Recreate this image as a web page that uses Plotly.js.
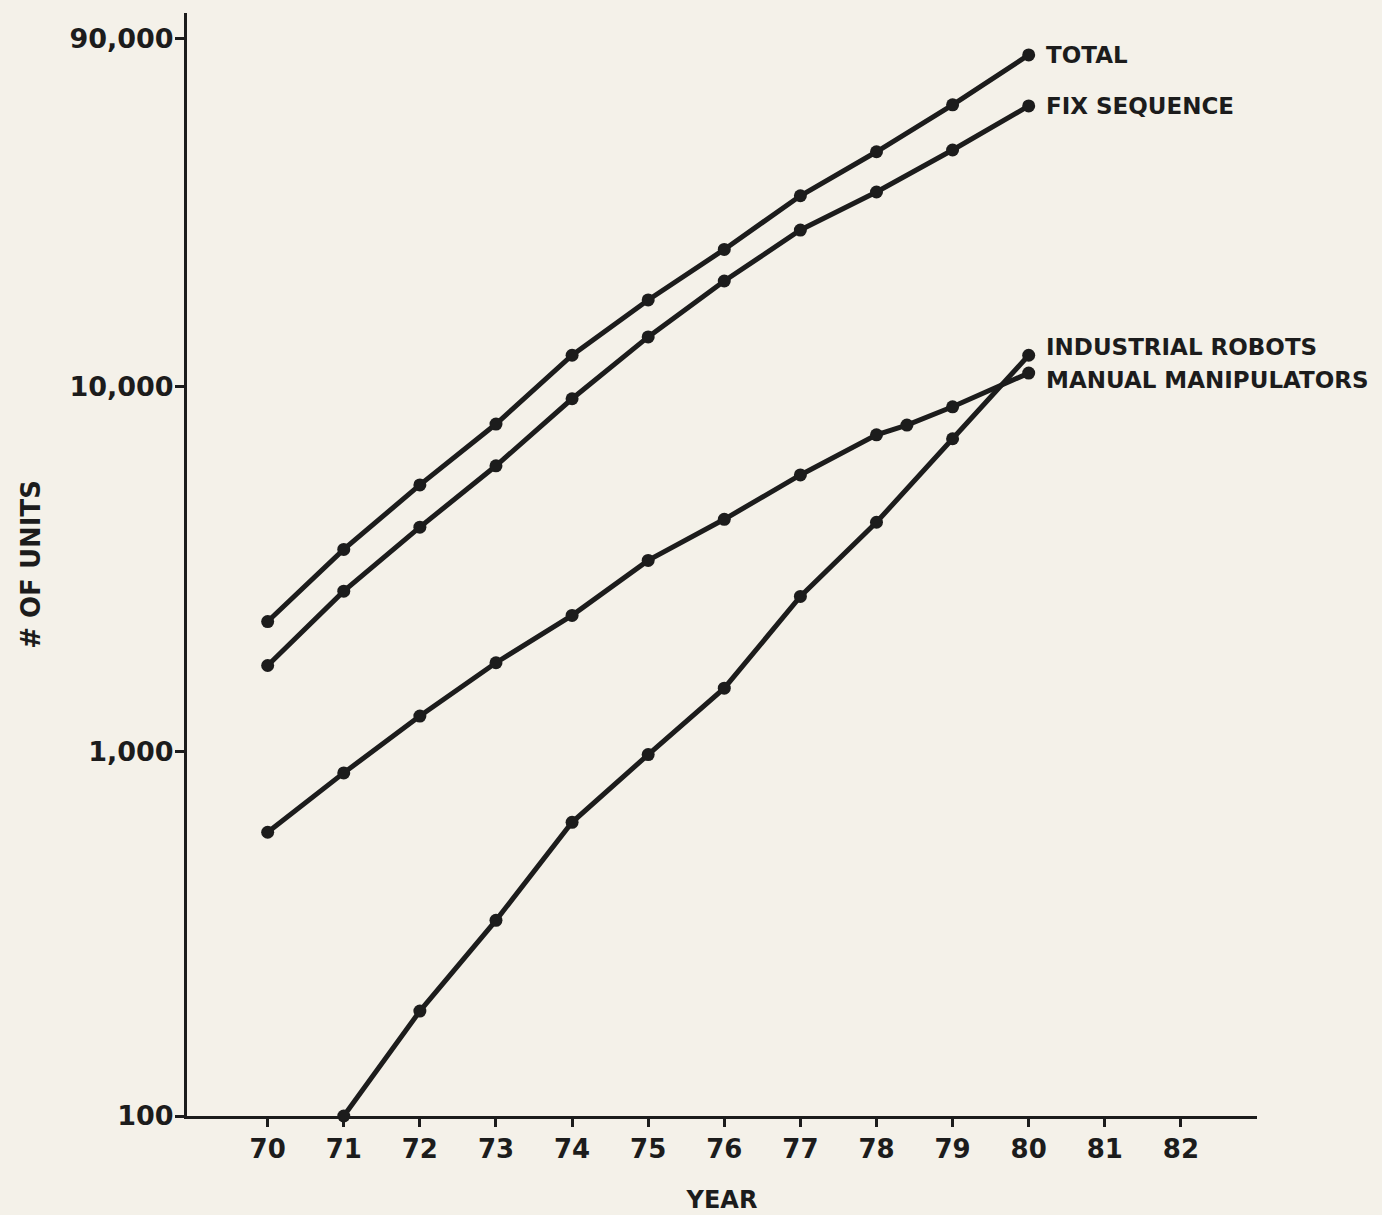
<!DOCTYPE html>
<html>
<head>
<meta charset="utf-8">
<script src="https://cdn.plot.ly/plotly-3.0.1.min.js"></script>
<style>
  html, body { margin: 0; padding: 0; background: #f4f1e9; }
  #chart { width: 1382px; height: 1215px; }
</style>
</head>
<body>
<div id="chart"></div>
<script>
// ---- data ----
const yearsMain = [70, 71, 72, 73, 74, 75, 76, 77, 78, 79, 80];
const totalUnits = [2270, 3580, 5380, 7900, 12200, 17300, 23800, 33400, 44100, 59300, 81300];
const fixSequenceUnits = [1720, 2750, 4120, 6070, 9270, 13700, 19500, 26900, 34200, 44600, 58900];

const yearsManual = [70, 71, 72, 73, 74, 75, 76, 77, 78, 78.4, 79, 80];
const manualManipulatorUnits = [600, 873, 1250, 1750, 2360, 3340, 4330, 5730, 7380, 7850, 8810, 10900];

const yearsRobots = [71, 72, 73, 74, 75, 76, 77, 78, 79, 80];
const industrialRobotUnits = [100, 194, 344, 639, 980, 1490, 2660, 4250, 7200, 12200];

const seriesNames = ["TOTAL", "FIX SEQUENCE", "INDUSTRIAL ROBOTS", "MANUAL MANIPULATORS"];

const xTickVals = [70, 71, 72, 73, 74, 75, 76, 77, 78, 79, 80, 81, 82];
const xTickText = ["70", "71", "72", "73", "74", "75", "76", "77", "78", "79", "80", "81", "82"];
const yTickVals = [100, 1000, 10000, 90000];
const yTickText = ["100", "1,000", "10,000", "90,000"];

const xTitle = "YEAR";
const yTitle = "# OF UNITS";

// ---- styling ----
const INK = "#1c1c1c";
const PAPER = "#f4f1e9";
const FONT = "DejaVu Sans, Liberation Sans, Arial, sans-serif";

function lineTrace(x, y, name) {
  return {
    type: "scatter",
    mode: "lines+markers",
    x: x, y: y, name: name,
    line: { color: INK, width: 5 },
    marker: { color: INK, size: 13, symbol: "circle" },
    cliponaxis: false,
    showlegend: false,
    hoverinfo: "x+y+name"
  };
}

const traces = [
  lineTrace(yearsMain, totalUnits, seriesNames[0]),
  lineTrace(yearsMain, fixSequenceUnits, seriesNames[1]),
  lineTrace(yearsRobots, industrialRobotUnits, seriesNames[2]),
  lineTrace(yearsManual, manualManipulatorUnits, seriesNames[3])
];

function endLabel(text, xArr, yArr, yshift) {
  return {
    x: xArr[xArr.length - 1],
    y: Math.log10(yArr[yArr.length - 1]),
    xref: "x", yref: "y",
    text: text,
    showarrow: false,
    xanchor: "left",
    yanchor: "middle",
    xshift: 15,
    yshift: yshift,
    font: { family: FONT, size: 23, color: INK, weight: "bold" }
  };
}

const layout = {
  width: 1382,
  height: 1215,
  paper_bgcolor: PAPER,
  plot_bgcolor: PAPER,
  margin: { l: 187, r: 125, t: 13, b: 99, pad: 0 },
  font: { family: FONT, color: INK, weight: "bold" },
  xaxis: {
    range: [68.94, 83.0],
    tickmode: "array",
    tickvals: xTickVals,
    ticktext: xTickText,
    ticks: "outside",
    ticklen: 8,
    tickwidth: 3,
    tickcolor: INK,
    showline: true,
    linecolor: INK,
    linewidth: 3,
    showgrid: false,
    zeroline: false,
    tickfont: { family: FONT, size: 26, color: INK, weight: "bold" },
    ticklabelstandoff: 0,
    title: { text: xTitle, font: { family: FONT, size: 24, color: INK, weight: "bold" }, standoff: 28 },
    automargin: false
  },
  yaxis: {
    type: "log",
    range: [2, 5.025],
    tickmode: "array",
    tickvals: yTickVals,
    ticktext: yTickText,
    ticks: "outside",
    ticklen: 9,
    tickwidth: 3,
    tickcolor: INK,
    showline: true,
    linecolor: INK,
    linewidth: 3,
    showgrid: false,
    zeroline: false,
    tickfont: { family: FONT, size: 27, color: INK, weight: "bold" },
    ticklabelstandoff: -4,
    title: { text: yTitle, font: { family: FONT, size: 26, color: INK, weight: "bold" }, standoff: 22 },
    automargin: false
  },
  annotations: [
    endLabel(seriesNames[0], yearsMain, totalUnits, 0),
    endLabel(seriesNames[1], yearsMain, fixSequenceUnits, 0),
    endLabel(seriesNames[2], yearsRobots, industrialRobotUnits, 8),
    endLabel(seriesNames[3], yearsManual, manualManipulatorUnits, -7)
  ],
  showlegend: false
};

Plotly.newPlot("chart", traces, layout, { displayModeBar: false, staticPlot: true });
</script>
</body>
</html>
